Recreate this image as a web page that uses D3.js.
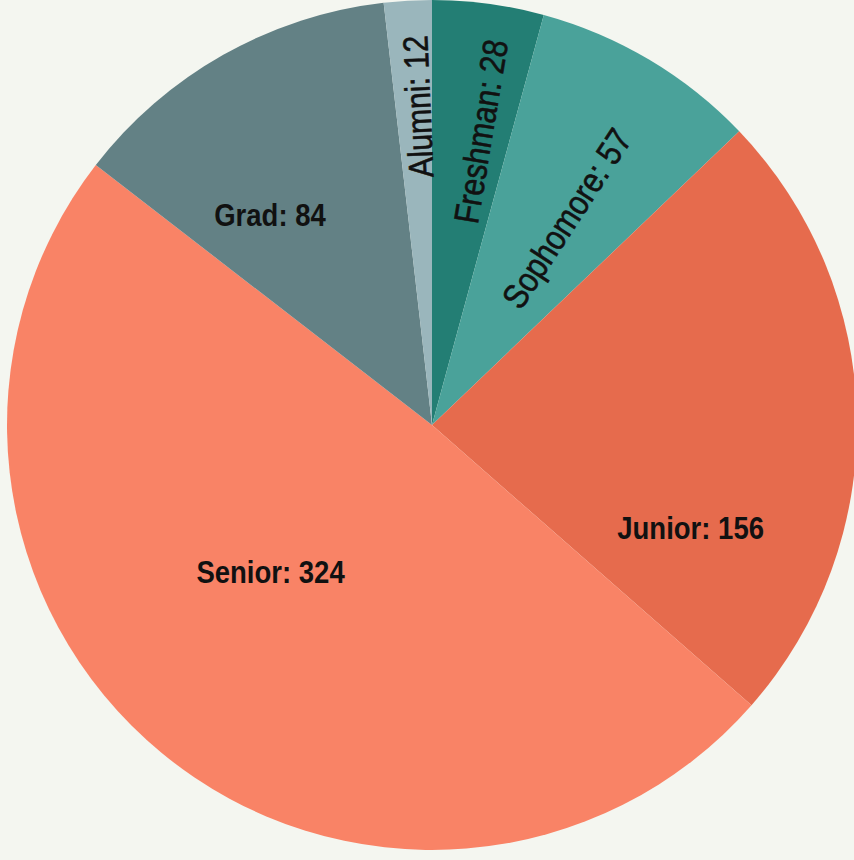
<!DOCTYPE html>
<html>
<head>
<meta charset="utf-8">
<script src="https://cdn.jsdelivr.net/npm/d3@7"></script>
<style>
  html, body { margin: 0; padding: 0; background: #f4f6f0; }
  svg { display: block; }
</style>
</head>
<body>
<svg id="chart" width="854" height="860"></svg>
<script>
// ---- data ----
const categories = ["Freshman", "Sophomore", "Junior", "Senior", "Grad", "Alumni"];
const counts = [28, 57, 156, 324, 84, 12];
const colors = ["#237e74", "#4aa29a", "#e66b4d", "#f98366", "#638185", "#9ab6bc"];

// ---- label layout (position within slice: t = fraction of slice angle, r = fraction of radius) ----
const labelLayout = {
  Freshman:  { t: 0.62,  r: 0.70,  rotate: true },
  Sophomore: { t: 0.575, r: 0.58,  rotate: true },
  Junior:    { t: 0.77,  r: 0.655, rotate: false },
  Senior:    { t: 0.547, r: 0.513, rotate: false },
  Grad:      { t: 0.32,  r: 0.624, rotate: false },
  Alumni:    { t: 0.62,  r: 0.75,  rotate: true }
};

const svg = d3.select("#chart");
const cx = 432, cy = 425, radius = 425;
const condense = 0.86;

const data = categories.map((c, i) => ({ category: c, value: counts[i] }));
const color = d3.scaleOrdinal().domain(categories).range(colors);

const pie = d3.pie().value(d => d.value).sort(null);
const arc = d3.arc().innerRadius(0).outerRadius(radius);

const g = svg.append("g").attr("transform", `translate(${cx},${cy})`);
const arcs = pie(data);

g.selectAll("path.slice")
  .data(arcs)
  .join("path")
  .attr("class", "slice")
  .attr("d", arc)
  .attr("fill", d => color(d.data.category));

g.selectAll("text.label")
  .data(arcs)
  .join("text")
  .attr("class", "label")
  .attr("text-anchor", "middle")
  .attr("dy", "0.35em")
  .attr("font-family", "'Liberation Sans', Arial, sans-serif")
  .attr("font-weight", d => labelLayout[d.data.category].rotate ? "normal" : "bold")
  .attr("font-size", d => labelLayout[d.data.category].rotate ? 35 : 32)
  .attr("stroke", d => labelLayout[d.data.category].rotate ? "#111" : "none")
  .attr("stroke-width", 0.6)
  .attr("fill", "#111")
  .attr("transform", d => {
    const L = labelLayout[d.data.category];
    const a = d.startAngle + (d.endAngle - d.startAngle) * L.t;
    const rr = radius * L.r;
    const x = rr * Math.sin(a), y = -rr * Math.cos(a);
    const rot = L.rotate ? (a * 180 / Math.PI - 90) : 0;
    return `translate(${x},${y}) rotate(${rot}) scale(${condense},1)`;
  })
  .text(d => `${d.data.category}: ${d.data.value}`);
</script>
</body>
</html>
